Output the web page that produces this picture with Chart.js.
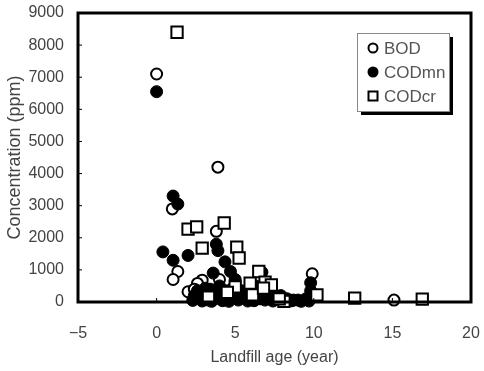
<!DOCTYPE html>
<html>
<head>
<meta charset="utf-8">
<script src="https://cdn.jsdelivr.net/npm/chart.js@4"></script>
<style>
  html, body { margin: 0; padding: 0; background: #fff; }
  #wrap { width: 484px; height: 371px; }
</style>
</head>
<body>
<div id="wrap"><canvas id="myScatter" width="484" height="371"></canvas></div>
<script>
Chart.defaults.font.family = "'Liberation Sans', Arial, sans-serif";
Chart.defaults.font.size = 16;
Chart.defaults.color = '#444';

// values: [age (year), concentration (ppm)]
let bodPoints = [
    [0, 7100], [3.9, 4200], [1.0, 2900], [3.8, 2200], [1.35, 950], [1.05, 700],
    [2.0, 320], [2.9, 680], [2.6, 580], [4.0, 700], [9.9, 880], [15.1, 60],
    [3.2, 250], [4.5, 350], [2.4, 400], [5.5, 150], [6.6, 100], [7.5, 80],
    [8.6, 40], [3.5, 120]
];
let codmnPoints = [
    [0, 6550], [1.05, 3300], [1.35, 3050], [0.4, 1560], [1.05, 1300], [2.0, 1450],
    [3.8, 1800], [3.9, 1600], [4.35, 1250], [3.6, 900], [4.7, 950], [3.1, 430],
    [9.8, 600], [9.8, 350], [2.4, 200], [2.8, 100], [3.3, 60], [3.7, 250],
    [4.1, 80], [4.4, 300], [4.8, 150], [5.2, 60], [5.6, 250], [6.0, 100],
    [6.3, 500], [6.6, 200], [6.9, 60], [7.2, 300], [7.6, 120], [8.0, 40],
    [8.7, 60], [9.0, 60], [9.5, 100], [10.0, 200], [5.0, 700], [6.7, 930],
    [2.3, 50], [2.9, 30], [3.5, 20], [4.2, 40], [4.6, 20], [5.3, 150],
    [5.8, 30], [6.2, 40], [7.0, 150], [7.4, 30], [7.9, 200], [8.3, 100],
    [9.2, 20], [9.7, 30], [4.9, 450], [3.0, 250], [3.4, 400], [4.0, 500],
    [5.4, 350], [5.9, 450], [6.4, 300], [7.0, 350], [2.6, 350]
];
let codcrPoints = [
    [1.3, 8400], [2.0, 2270], [2.55, 2340], [4.3, 2460], [2.9, 1680], [5.1, 1710],
    [5.25, 1370], [6.5, 950], [6.9, 620], [7.3, 530], [5.95, 590], [5.0, 470],
    [10.2, 220], [12.6, 120], [16.9, 90], [6.1, 220], [8.1, 20], [6.8, 430],
    [4.5, 300], [3.3, 150], [7.8, 100]
];
let seriesNames = ['BOD', 'CODmn', 'CODcr'];
let xTicks = [-5, 0, 5, 10, 15, 20];
let yTicks = [0, 1000, 2000, 3000, 4000, 5000, 6000, 7000, 8000, 9000];

function toXY(list) {
    return list.map(p => ({ x: p[0], y: p[1] }));
}

// thick frame + short inward tick marks
const framePlugin = {
    id: 'frame',
    afterDatasetsDraw(chart) {
        const ctx = chart.ctx;
        const a = chart.chartArea;
        const xs = chart.scales.x, ys = chart.scales.y;
        ctx.save();
        ctx.strokeStyle = '#000';
        ctx.lineWidth = 1;
        ctx.beginPath();
        xTicks.forEach(v => {
            const px = xs.getPixelForValue(v);
            ctx.moveTo(px, a.bottom);
            ctx.lineTo(px, a.bottom - 4);
        });
        yTicks.forEach(v => {
            const py = ys.getPixelForValue(v);
            ctx.moveTo(a.left, py);
            ctx.lineTo(a.left + 4, py);
        });
        ctx.stroke();
        ctx.lineWidth = 3;
        ctx.strokeRect(a.left, a.top, a.right - a.left, a.bottom - a.top);
        ctx.restore();
    }
};

// boxed legend with a drop shadow
const legendBoxPlugin = {
    id: 'legendBox',
    afterDraw(chart) {
        const ctx = chart.ctx;
        const bx = 357, by = 33, bw = 92, bh = 78;
        ctx.save();
        ctx.fillStyle = '#000';
        ctx.fillRect(bx + 4, by + 4, bw, bh);
        ctx.fillStyle = '#fff';
        ctx.fillRect(bx, by, bw, bh);
        ctx.strokeStyle = '#888';
        ctx.lineWidth = 1;
        ctx.strokeRect(bx + 0.5, by + 0.5, bw, bh);
        ctx.font = "17px 'Liberation Sans', Arial, sans-serif";
        ctx.textBaseline = 'middle';
        chart.data.datasets.forEach((ds, i) => {
            const cy = by + 15 + i * 24;
            ctx.fillStyle = ds.backgroundColor;
            ctx.strokeStyle = '#000';
            ctx.lineWidth = 2;
            ctx.beginPath();
            if (ds.pointStyle === 'rect') {
                ctx.rect(bx + 11.5, cy - 4.5, 9, 9);
            } else {
                ctx.arc(bx + 16, cy, 4.5, 0, Math.PI * 2);
            }
            ctx.fill();
            ctx.stroke();
            ctx.fillStyle = '#555';
            ctx.fillText(seriesNames[i], bx + 27, cy + 1);
        });
        ctx.restore();
    }
};

let ctx1 = document.getElementById('myScatter').getContext('2d');
let chart1 = new Chart(ctx1, {
    type: 'scatter',
    data: {
        datasets: [{
            label: seriesNames[0],
            data: toXY(bodPoints),
            pointStyle: 'circle',
            pointRadius: 5.5,
            backgroundColor: '#fff',
            borderColor: '#000',
            borderWidth: 2,
            clip: false,
            order: 3
        }, {
            label: seriesNames[1],
            data: toXY(codmnPoints),
            pointStyle: 'circle',
            pointRadius: 6,
            backgroundColor: '#000',
            borderColor: '#000',
            borderWidth: 1,
            clip: false,
            order: 2
        }, {
            label: seriesNames[2],
            data: toXY(codcrPoints),
            pointStyle: 'rect',
            pointRadius: 8,
            backgroundColor: '#fff',
            borderColor: '#000',
            borderWidth: 2,
            clip: false,
            order: 1
        }]
    },
    options: {
        responsive: false,
        animation: false,
        events: [],
        layout: { padding: { top: 13, right: 13, left: 0, bottom: 0 } },
        plugins: {
            legend: { display: false },
            tooltip: { enabled: false }
        },
        scales: {
            x: {
                type: 'linear',
                min: -5,
                max: 20,
                afterBuildTicks(scale) { scale.ticks = xTicks.map(v => ({ value: v })); },
                afterFit(scale) {
                    scale.height = 69;
                    scale.paddingLeft = 0;
                    scale.paddingRight = 0;
                },
                grid: { display: false, drawTicks: false },
                border: { display: false },
                ticks: {
                    padding: 22,
                    callback: v => (v < 0 ? '\u2212' + Math.abs(v) : '' + v)
                },
                title: { display: true, text: 'Landfill age (year)', padding: { top: 3 } }
            },
            y: {
                type: 'linear',
                min: 0,
                max: 9000,
                afterBuildTicks(scale) { scale.ticks = yTicks.map(v => ({ value: v })); },
                afterFit(scale) {
                    scale.width = 78;
                    scale.paddingTop = 0;
                    scale.paddingBottom = 0;
                },
                grid: { display: false, drawTicks: false },
                border: { display: false },
                ticks: { padding: 14, callback: v => '' + v },
                title: {
                    display: true,
                    text: 'Concentration (ppm)',
                    font: { size: 18 },
                    padding: { top: 4, bottom: 0 }
                }
            }
        }
    },
    plugins: [framePlugin, legendBoxPlugin]
});
</script>
</body>
</html>
